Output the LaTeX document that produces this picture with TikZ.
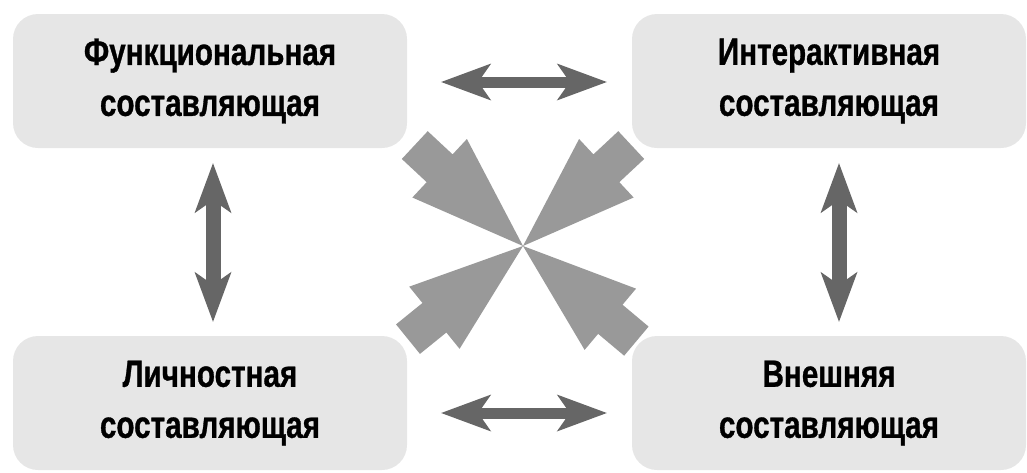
\documentclass[tikz,border=0pt]{standalone}
\usepackage{fontspec}
\setmainfont{Liberation Sans}[FakeStretch=0.78, BoldFeatures={FakeBold=0.8}]
\usetikzlibrary{arrows.meta}
\definecolor{boxgray}{HTML}{E6E6E6}
\definecolor{linkgray}{HTML}{666666}
\definecolor{pushgray}{HTML}{999999}
\tikzset{
  part/.style={shape=rectangle, rounded corners=25pt, fill=boxgray, minimum width=394pt, minimum height=134pt, align=center, font=\bfseries\fontsize{38}{51}\selectfont, execute at begin node={\rule{0pt}{38pt}}},
  link/.style={draw=linkgray, line width=#1, {Stealth[length=50pt,width=37pt,inset=13pt,line width=0pt]}-{Stealth[length=50pt,width=37pt,inset=13pt,line width=0pt]}},
  push/.style={fill=pushgray}
}
\begin{document}
\begin{tikzpicture}[x=1pt,y=-1pt]
\useasboundingbox (0,0) rectangle (1027,472);
\node[part] (fun) at (210,81) {Функциональная\\составляющая};
\node[part] (inter) at (829,81) {Интерактивная\\составляющая};
\node[part] (lich) at (210,403) {Личностная\\составляющая};
\node[part] (vnesh) at (829,403) {Внешняя\\составляющая};
\draw[link=11pt] ([shift={(34,1)}]fun.east) -- ([shift={(-25,1)}]inter.west);
\draw[link=11pt] ([shift={(34,10)}]lich.east) -- ([shift={(-25,10)}]vnesh.west);
\draw[link=15pt] ([shift={(3,15)}]fun.south) -- ([shift={(3,-14)}]lich.north);
\draw[link=15pt] ([shift={(10,15)}]inter.south) -- ([shift={(10,-14)}]vnesh.north);
% arrows pointing to the middle
\coordinate (mid) at (523,246);
\fill[push, shift={(mid)}, rotate=-43] (0,0) -- (-114,40) -- (-114,19) -- (-148,19) -- (-148,-19) -- (-114,-19) -- (-114,-40) -- cycle;
\fill[push, shift={(mid)}, rotate=-137] (0,0) -- (-114,40) -- (-114,19) -- (-148,19) -- (-148,-19) -- (-114,-19) -- (-114,-40) -- cycle;
\fill[push, shift={(mid)}, rotate=39] (0,0) -- (-114,40) -- (-114,19) -- (-148,19) -- (-148,-19) -- (-114,-19) -- (-114,-40) -- cycle;
\fill[push, shift={(mid)}, rotate=140] (0,0) -- (-114,40) -- (-114,19) -- (-148,19) -- (-148,-19) -- (-114,-19) -- (-114,-40) -- cycle;
\end{tikzpicture}
\end{document}
